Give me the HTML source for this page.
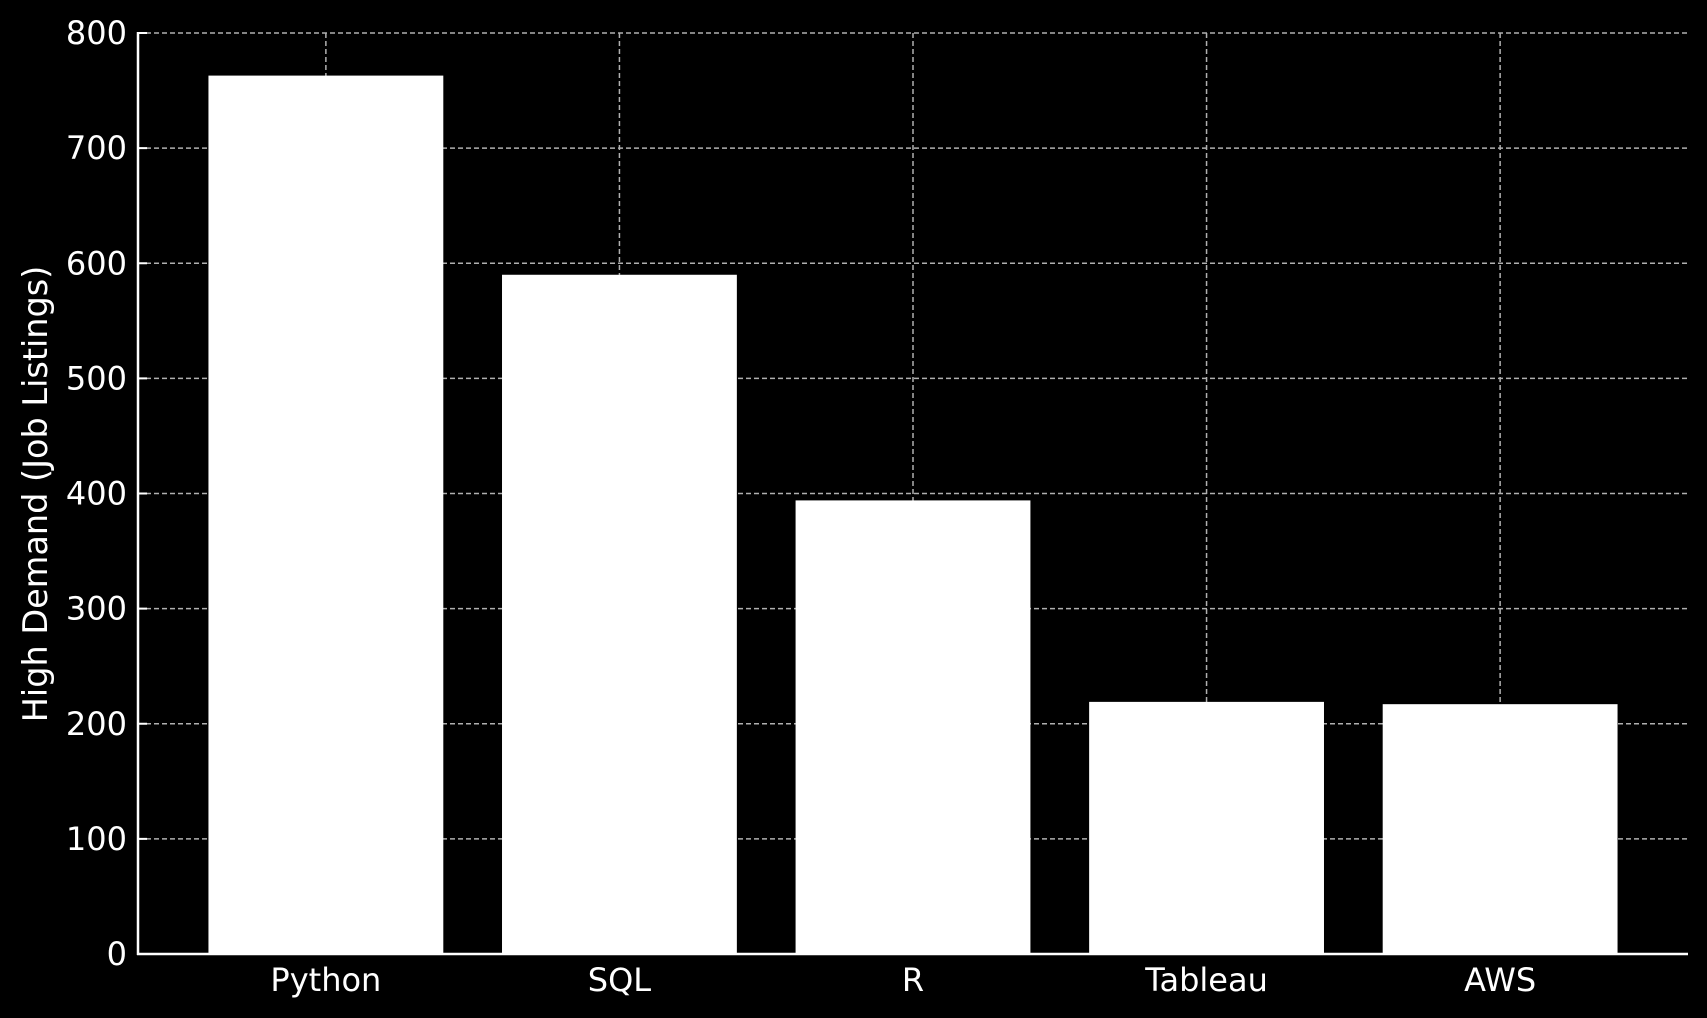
<!DOCTYPE html>
<html><head><meta charset="utf-8"><style>
html,body{margin:0;padding:0;background:#000;}
svg{display:block;font-family:"DejaVu Sans","Liberation Sans",sans-serif;}
</style></head><body>
<svg id="chart" width="1707" height="1018" viewBox="0 0 1707 1018" xmlns="http://www.w3.org/2000/svg">
<rect width="1707" height="1018" fill="#000"/>
<g id="grid"></g><g id="bars"></g><g id="axes"></g>
</svg>
<script>
const categories = ["Python", "SQL", "R", "Tableau", "AWS"];
const values = [763, 590, 394, 219, 217];
const yTicks = [0, 100, 200, 300, 400, 500, 600, 700, 800];
const yLabel = "High Demand (Job Listings)";

const NS = "http://www.w3.org/2000/svg";
const L = 138, R = 1688, T = 33, B = 954;
const xMin = -0.64, xMax = categories.length - 1 + 0.64;
const yMin = 0, yMax = 800;
function xScale(i){ return L + (i - xMin) / (xMax - xMin) * (R - L); }
function yScale(v){ return B - (v - yMin) / (yMax - yMin) * (B - T); }
function mk(tag, attrs, parent){ const e = document.createElementNS(NS, tag); for (const k in attrs) e.setAttribute(k, attrs[k]); parent.appendChild(e); return e; }
const grid = document.getElementById('grid'), bars = document.getElementById('bars'), axes = document.getElementById('axes');
const bw = 0.8 * (xScale(1) - xScale(0));

yTicks.forEach(t => {
  const y = yScale(t);
  const g = mk('line', {x1: L, x2: R, y1: y, y2: y, stroke: '#b0b0b0', 'stroke-width': 1.5, 'stroke-dasharray': '5,3'}, grid);
  
  
  const tk = mk('line', {x1: L, x2: L + 9, y1: y, y2: y, stroke: '#fff', 'stroke-width': 2}, axes);
  
  
  const lb = mk('text', {x: 127, y: y + 11, 'text-anchor': 'end', 'font-size': 32, fill: '#fff'}, axes);
  lb.textContent = t;
  
  
});
categories.forEach((c, i) => {
  const x = xScale(i);
  const g = mk('line', {x1: x, x2: x, y1: T, y2: B, stroke: '#b0b0b0', 'stroke-width': 1.5, 'stroke-dasharray': '5,3'}, grid);
  
  
  const r = mk('rect', {x: x - bw / 2, y: yScale(values[i]), width: bw, height: yScale(0) - yScale(values[i]), fill: '#fff'}, bars);
  
  
  const lb = mk('text', {x: x, y: 991, 'text-anchor': 'middle', 'font-size': 32, fill: '#fff'}, axes);
  lb.textContent = c;
  
  
});
const ys = mk('line', {x1: L, x2: L, y1: T - 1, y2: B + 1, stroke: '#fff', 'stroke-width': 2.5}, axes);


const xs = mk('line', {x1: L - 1, x2: R, y1: B, y2: B, stroke: '#fff', 'stroke-width': 2.5}, axes);


const yt = mk('text', {x: 0, y: 0, 'text-anchor': 'middle', 'font-size': 33.5, fill: '#fff', transform: 'translate(47,494) rotate(-90)'}, axes);
yt.textContent = yLabel;


</script>
</body></html>
